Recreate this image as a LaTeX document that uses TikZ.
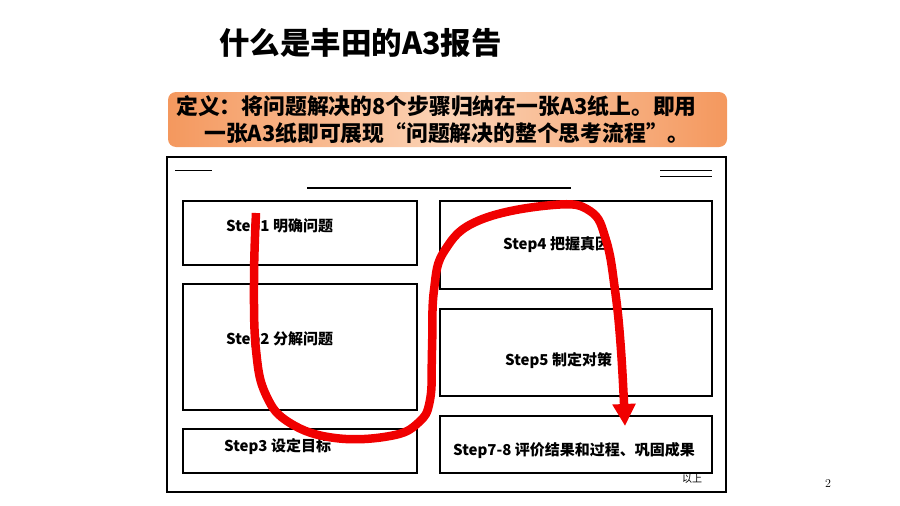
\documentclass[tikz,border=0pt]{standalone}
\usepackage{fontspec}
\newfontfamily\cjk{Noto Sans CJK SC}
\usetikzlibrary{
    arrows.meta,
    calc,
    positioning
}
\definecolor{defedge}{HTML}{F4985E}
\definecolor{defmid}{HTML}{FBD3B6}
\definecolor{penred}{HTML}{F00000}
\tikzset{
    stepbox/.style={draw, line width=1.3pt},
    steplabel/.style={anchor=west, inner sep=0pt, font=\cjk\bfseries\fontsize{15}{18}\selectfont},
    redpen/.style={draw=penred, line width=8.5pt, line join=round}
}

\begin{document}
\begin{tikzpicture}[x=1pt, y=-1pt]
                                \useasboundingbox (0, 0) rectangle (900, 506);
                                \node[anchor=west, inner sep=0pt, font=\cjk\bfseries\fontsize{30.5}{34}\selectfont] (title) at (219, 43) {什么是丰田的A3报告};
                                % definition banner
                                \shade[rounded corners=8pt, left color=defedge, right color=defedge, middle color=defmid] (168, 92) rectangle (727, 147);
                                \node[anchor=west, inner sep=0pt, font=\cjk\bfseries\fontsize{21.8}{24}\selectfont] (defa) at (176, 106) {定义：将问题解决的8个步骤归纳在一张A3纸上。即用};
                                \node[anchor=west, inner sep=0pt, font=\cjk\bfseries\fontsize{21.8}{24}\selectfont] (defb) at (204, 133) {一张A3纸即可展现“问题解决的整个思考流程”。};
                                % the A3 sheet
                                \draw[line width=2.5pt] (167, 157) rectangle (726, 492);
                                \draw[line width=1pt] (175, 170) -- (212, 170);
                                \draw[line width=1pt] (660, 170) -- (712, 170);
                                \draw[line width=1pt] (660, 176) -- (712, 176);
                                \draw[line width=2.2pt] (307, 188) -- (571, 188);
                                \draw[stepbox] (183, 201) rectangle (417, 265);
                                \draw[stepbox] (183, 284) rectangle (417, 410);
                                \draw[stepbox] (183, 429) rectangle (417, 473);
                                \draw[stepbox] (440, 201) rectangle (712, 289);
                                \draw[stepbox] (440, 309) rectangle (712, 396);
                                \draw[stepbox] (440, 416) rectangle (712, 473);
                                \node[steplabel] (s1) at (226, 227) {Step1 明确问题};
                                \node[steplabel] (s2) at (226, 340) {Step2 分解问题};
                                \node[steplabel] (s3) at (224, 447) {Step3 设定目标};
                                \node[steplabel] (s4) at (503, 245) {Step4 把握真因};
                                \node[steplabel] (s5) at (505, 361) {Step5 制定对策};
                                \node[steplabel] (s78) at (453, 451) {Step7-8 评价结果和过程、巩固成果};
                                \node[anchor=west, inner sep=0pt, font=\cjk\fontsize{10}{12}\selectfont] (end) at (682, 479) {以上};
                                \node[inner sep=0pt, font=\fontsize{12}{14}\selectfont] (page) at (828, 484) {2};
                                % the hand drawn flow
                                \draw[redpen, -{Triangle[width=22pt, length=22pt]}] plot[smooth, tension=0.7] coordinates {
                                    (256, 213) (254, 280) (256, 350) (266, 395) (290, 423) (335, 438)
                                    (390, 436) (418, 423) (430, 400) (432, 350) (434, 290) (445, 250)
                                    (480, 220) (553, 205) (590, 211) (606, 240) (615, 290) (621, 350) (625, 426)
                                };
                            \end{tikzpicture}
\end{document}
